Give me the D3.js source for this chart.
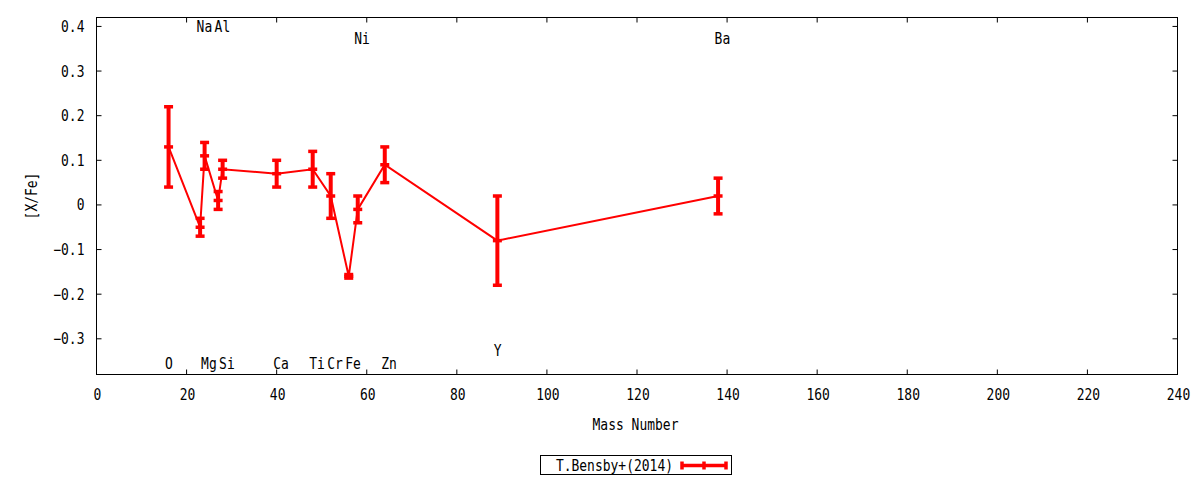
<!DOCTYPE html>
<html>
<head>
<meta charset="utf-8">
<script src="https://cdn.jsdelivr.net/npm/d3@7"></script>
<style>
  body { margin: 0; background: #fff; }
  text { font-family: "DejaVu Sans Mono", monospace; font-size: 15px; fill: #000; }
</style>
</head>
<body>
<div id="chart"></div>
<script>
// data
var elements = ["O", "Na", "Mg", "Al", "Si", "Ca", "Ti", "Cr", "Fe", "Ni", "Zn", "Y", "Ba"];
var massNumber = [16, 23, 24, 27, 28, 40, 48, 52, 56, 58, 64, 89, 138];
var xfe = [0.13, -0.05, 0.11, 0.01, 0.08, 0.07, 0.08, 0.02, -0.16, -0.01, 0.09, -0.08, 0.02];
var xfeErr = [0.09, 0.02, 0.03, 0.02, 0.02, 0.03, 0.04, 0.05, 0.004, 0.03, 0.04, 0.10, 0.04];

// element labels placed in data coordinates
var labelText = ["Na", "Al", "Ni", "Ba", "O", "Mg", "Si", "Ca", "Ti", "Cr", "Fe", "Zn", "Y"];
var labelMass = [23, 27, 58, 138, 16, 24, 28, 40, 48, 52, 56, 64, 89];
var labelY = [0.4, 0.4, 0.375, 0.375, -0.355, -0.355, -0.355, -0.355, -0.355, -0.355, -0.355, -0.355, -0.325];

var xTicks = d3.range(0, 241, 20);
var yTicks = [-0.3, -0.2, -0.1, 0, 0.1, 0.2, 0.3, 0.4];
var seriesName = "T.Bensby+(2014)";

var width = 1200,
    height = 480;
var margin = {left: 96.5, right: 22.5, top: 17.5, bottom: 105.5};
var red = "#ff0000";
var squeeze = 0.865; // gnuplot's font is narrow and tall

var x = d3.scaleLinear()
    .domain([0, 240])
    .range([margin.left, width - margin.right]);
var y = d3.scaleLinear()
    .domain([-0.38, 0.42])
    .range([height - margin.bottom, margin.top]);

var svg = d3.select("#chart").append("svg")
    .attr("width", width)
    .attr("height", height);

function at(px, py, rot) {
    return "translate(" + px + "," + py + ")" + (rot ? " rotate(" + rot + ")" : "") + " scale(" + squeeze + ",1)";
}

// ticks on all four sides, pointing inward
function fmt(d) {
    if (Math.abs(d) < 1e-9) return "0";
    return d3.format(".1f")(d);
}
var tickLen = 5;
var ticks = svg.append("g").attr("stroke", "#000").attr("stroke-width", 1);
xTicks.forEach(function (t) {
    ticks.append("line").attr("x1", x(t)).attr("x2", x(t))
        .attr("y1", y.range()[0]).attr("y2", y.range()[0] - tickLen);
    ticks.append("line").attr("x1", x(t)).attr("x2", x(t))
        .attr("y1", y.range()[1]).attr("y2", y.range()[1] + tickLen);
});
yTicks.forEach(function (t) {
    ticks.append("line").attr("x1", x.range()[0]).attr("x2", x.range()[0] + tickLen)
        .attr("y1", y(t)).attr("y2", y(t));
    ticks.append("line").attr("x1", x.range()[1]).attr("x2", x.range()[1] - tickLen)
        .attr("y1", y(t)).attr("y2", y(t));
});

svg.append("g").selectAll("text")
    .data(xTicks)
    .enter().append("text")
    .attr("transform", function (d) { return at(x(d) + 1, y.range()[0] + 25.5); })
    .attr("text-anchor", "middle")
    .text(function (d) { return d; });

svg.append("g").selectAll("text")
    .data(yTicks)
    .enter().append("text")
    .attr("transform", function (d) { return at(x.range()[0] - 12, y(d) + 5.5); })
    .attr("text-anchor", "end")
    .text(fmt);

// frame
svg.append("rect")
    .attr("x", x.range()[0])
    .attr("y", y.range()[1])
    .attr("width", x.range()[1] - x.range()[0])
    .attr("height", y.range()[0] - y.range()[1])
    .attr("fill", "none")
    .attr("stroke", "#000")
    .attr("stroke-width", 1);

// axis titles
svg.append("text")
    .attr("transform", at((x.range()[0] + x.range()[1]) / 2 - 1.5, 430))
    .attr("text-anchor", "middle")
    .text("Mass Number");
svg.append("text")
    .attr("transform", at(37, (y.range()[0] + y.range()[1]) / 2, -90))
    .attr("text-anchor", "middle")
    .text("[X/Fe]");

// element labels
svg.append("g").selectAll("text")
    .data(labelText)
    .enter().append("text")
    .attr("transform", function (d, i) { return at(x(labelMass[i]) - 3.5, y(labelY[i]) + 6); })
    .attr("text-anchor", "start")
    .text(function (d) { return d; });

// connecting line
var pts = massNumber.map(function (m, i) { return [m, xfe[i]]; });
svg.append("path")
    .datum(pts)
    .attr("fill", "none")
    .attr("stroke", red)
    .attr("stroke-width", 2)
    .attr("d", d3.line()
        .x(function (d) { return x(d[0]); })
        .y(function (d) { return y(d[1]); }));

// error bars
var capW = 9;
var bars = svg.append("g").attr("stroke", red);
massNumber.forEach(function (m, i) {
    var cx = x(m),
        lo = y(xfe[i] - xfeErr[i]),
        hi = y(xfe[i] + xfeErr[i]);
    bars.append("line").attr("x1", cx).attr("x2", cx)
        .attr("y1", lo).attr("y2", hi).attr("stroke-width", 4);
    [lo, hi, y(xfe[i])].forEach(function (yy) {
        bars.append("line").attr("x1", cx - capW / 2).attr("x2", cx + capW / 2)
            .attr("y1", yy).attr("y2", yy).attr("stroke-width", 3.5);
    });
});

// legend
var lg = svg.append("g");
lg.append("rect")
    .attr("x", 540.5).attr("y", 455.5)
    .attr("width", 191).attr("height", 19)
    .attr("fill", "#fff").attr("stroke", "#000").attr("stroke-width", 1);
lg.append("text")
    .attr("transform", at(673, 471))
    .attr("text-anchor", "end")
    .text(seriesName);
lg.append("line")
    .attr("x1", 682).attr("x2", 726).attr("y1", 465.5).attr("y2", 465.5)
    .attr("stroke", red).attr("stroke-width", 3.5);
[682, 704, 726].forEach(function (lx) {
    lg.append("line")
        .attr("x1", lx).attr("x2", lx).attr("y1", 461.5).attr("y2", 469.5)
        .attr("stroke", red).attr("stroke-width", 3.5);
});
</script>
</body>
</html>
